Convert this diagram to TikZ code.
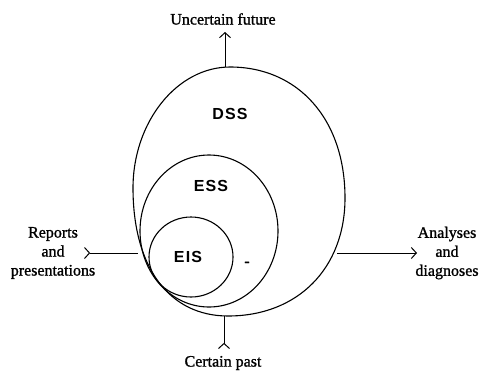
\documentclass[tikz,border=0pt]{standalone}
\usepackage{fontspec}
\setmainfont{Liberation Serif}
\newfontfamily\txtfont[FakeBold=1.2]{Liberation Serif}
\newfontfamily\sysfont[LetterSpace=7]{Liberation Sans}
\usepackage{tikz}
\usetikzlibrary{positioning,arrows.meta,shapes.geometric}

\begin{document}
\begin{tikzpicture}[x=1pt,y=-1pt,
   sysline/.style={line width=1.1pt},
   sys/.style={draw,ellipse,sysline,inner sep=0pt},
   lbl/.style={font=\sysfont\bfseries\fontsize{16}{19}\selectfont,inner sep=0pt},
   txt/.style={font=\txtfont\fontsize{16}{19}\selectfont,align=center,inner sep=0pt},
   outarr/.style={line width=1pt,-{Straight Barb[length=5pt,width=11pt]}},
   inarr/.style={line width=1pt,{Straight Barb[reversed,length=5pt,width=11pt]}-}]
  \useasboundingbox (0,0) rectangle (481,370);
  % DSS outline (egg shaped, fuller below)
  \coordinate (dN) at (230,67);
  \coordinate (dE) at (345,198);
  \coordinate (dS) at (228,316);
  \coordinate (dW) at (133,188);
  \draw[sysline] (dN) .. controls (298,67) and (345,119) .. (dE)
    .. controls (345,268) and (298,316) .. (dS)
    .. controls (169,316) and (133,267) .. (dW)
    .. controls (133,122) and (177,67) .. cycle;
  % inner systems
  \node[sys,minimum width=138pt,minimum height=152pt] (ess) at (209,231) {};
  \node[sys,minimum width=84pt,minimum height=80pt] (eis) at (191,257) {};
  \node[lbl] (dsslbl) at (230,114) {DSS};
  \node[lbl] (esslbl) at (211,186) {ESS};
  \node[lbl] (eislbl) at (188,257) {EIS};
  \node[txt] (dash) at (247,264) {-};
  % flows in and out
  \coordinate (dtop) at (225,67.3);
  \coordinate (dbot) at (224,315.8);
  \coordinate (dleft) at (138,253);
  \coordinate (dright) at (337,253);
  \coordinate (fut) at (225,32);
  \coordinate (past) at (224,349);
  \coordinate (pin) at (84,253);
  \coordinate (pout) at (417,253);
  \draw[outarr] (dtop) -- (fut);
  \draw[inarr] (past) -- (dbot);
  \draw[inarr] (pin) -- (dleft);
  \draw[outarr] (dright) -- (pout);
  % texts
  \node[txt] (futtxt) at (223,19) {Uncertain future};
  \node[txt] (pasttxt) at (223,363) {Certain past};
  \node[txt] (reports) at (53,253) {Reports\\and\\presentations};
  \node[txt] (analyses) at (447,253) {Analyses\\and\\diagnoses};
\end{tikzpicture}
\end{document}
